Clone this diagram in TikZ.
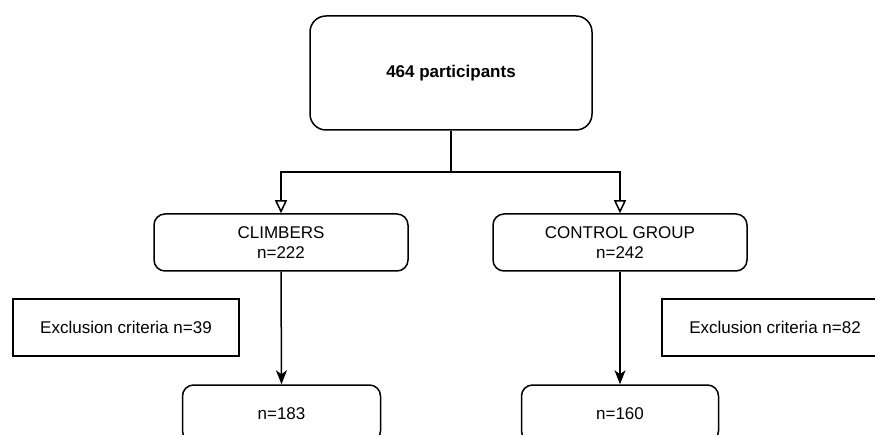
\documentclass[tikz,border=0pt]{standalone}
\usepackage{fontspec}
\setmainfont{Liberation Sans}
\usetikzlibrary{arrows.meta}
\begin{document}
\begin{tikzpicture}[x=1pt,y=-1pt,
  every node/.style={font=\fontsize{17}{20.5}\selectfont, align=center, inner sep=0pt},
  rbox/.style={draw, line width=1.5pt, rounded corners=11pt},
  sbox/.style={draw, line width=1.5pt},
  conn/.style={line width=1.5pt},
  openarrow/.style={-{Triangle[open,length=13pt,width=12pt,fill=white]}},
  fillarrow/.style={-{Stealth[length=14pt,width=11pt,inset=4pt]}}]
\useasboundingbox (0,0) rectangle (875,435);
\clip (0,0) rectangle (875,435);
\node[rbox, rounded corners=16pt, minimum width=282pt, minimum height=114pt] (top) at (451,73) {\bfseries 464 participants};
\node[rbox, minimum width=254pt, minimum height=57pt] (climb) at (281,242.5) {CLIMBERS\\n=222};
\node[rbox, minimum width=254pt, minimum height=57pt] (ctrl) at (620,242.5) {CONTROL GROUP\\n=242};
\node[sbox, minimum width=226pt, minimum height=57pt] (exl) at (126,327.5) {Exclusion criteria n=39};
\node[sbox, minimum width=226pt, minimum height=57pt] (exr) at (775,327.5) {Exclusion criteria n=82};
\node[rbox, minimum width=198pt, minimum height=57pt] (resl) at (281.5,413.5) {n=183};
\node[rbox, minimum width=197pt, minimum height=57pt] (resr) at (620,413.5) {n=160};
\coordinate (split) at (451,172);
\draw[conn] (top.south) -- (split);
\draw[conn, openarrow] (split) -| (climb.north);
\draw[conn, openarrow] (split) -| (ctrl.north);
\draw[conn, fillarrow] (climb.south) -- (resl.north);
\draw[conn, fillarrow] (ctrl.south) -- (resr.north);
\end{tikzpicture}
\end{document}
